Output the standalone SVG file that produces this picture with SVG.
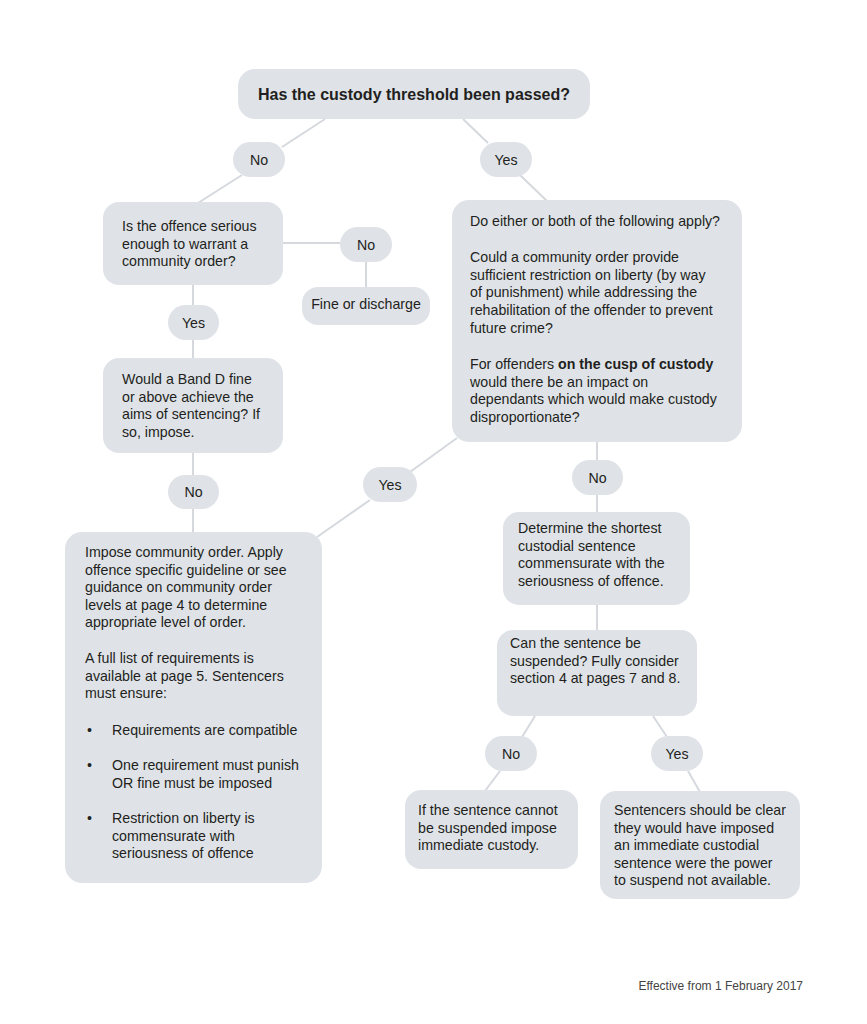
<svg xmlns="http://www.w3.org/2000/svg" width="867" height="1024" viewBox="0 0 867 1024">
<style>
.box{fill:#dfe3e8}
.t{font-family:"Liberation Sans",Arial,sans-serif;font-size:14.2px;fill:#231f20}
.c{text-anchor:middle}
.conn line{stroke:#d5d9de;stroke-width:2}
</style>
<rect width="867" height="1024" fill="#ffffff"/>
<g class="conn">
<line x1="325" y1="119" x2="282" y2="147"/>
<line x1="242" y1="175" x2="198" y2="203"/>
<line x1="463" y1="119" x2="488" y2="143"/>
<line x1="520" y1="175" x2="548" y2="202"/>
<line x1="283" y1="243" x2="340" y2="243"/>
<line x1="366" y1="262" x2="366" y2="287"/>
<line x1="193" y1="285" x2="193" y2="305"/>
<line x1="193" y1="340" x2="193" y2="358"/>
<line x1="193" y1="453" x2="193" y2="475"/>
<line x1="193" y1="509" x2="193" y2="532"/>
<line x1="457" y1="438" x2="410" y2="472"/>
<line x1="370" y1="500" x2="317" y2="537"/>
<line x1="597" y1="442" x2="597" y2="460"/>
<line x1="597" y1="495" x2="597" y2="512"/>
<line x1="597" y1="605" x2="597" y2="630"/>
<line x1="535" y1="716" x2="522" y2="737"/>
<line x1="500" y1="771" x2="485" y2="791"/>
<line x1="653" y1="716" x2="667" y2="737"/>
<line x1="688" y1="771" x2="700" y2="792"/>
</g>
<g id="n-threshold">
<rect class="box" x="238" y="69" width="352" height="50" rx="17"/>
<text class="t c" x="414" y="100" style="font-size:16px;font-weight:bold">Has the custody threshold been passed?</text>
</g>
<g id="n-no1">
<rect class="box" x="233" y="142" width="52" height="35" rx="17.5"/>
<text class="t c" x="259" y="165">No</text>
</g>
<g id="n-yes1">
<rect class="box" x="480" y="142" width="52" height="35" rx="17.5"/>
<text class="t c" x="506" y="165">Yes</text>
</g>
<g id="n-serious">
<rect class="box" x="103" y="202" width="180" height="83" rx="16"/>
<text class="t" x="122" y="231">Is the offence serious</text>
<text class="t" x="122" y="248.5">enough to warrant a</text>
<text class="t" x="122" y="266">community order?</text>
</g>
<g id="n-no2">
<rect class="box" x="340" y="227" width="52" height="35" rx="17.5"/>
<text class="t c" x="366" y="249.5">No</text>
</g>
<g id="n-fine">
<rect class="box" x="302" y="287" width="128" height="38" rx="16"/>
<text class="t c" x="366" y="309">Fine or discharge</text>
</g>
<g id="n-yes2">
<rect class="box" x="168" y="305" width="51" height="35" rx="17.5"/>
<text class="t c" x="193.5" y="327.5">Yes</text>
</g>
<g id="n-bandd">
<rect class="box" x="103" y="358" width="180" height="95" rx="16"/>
<text class="t" x="122" y="384">Would a Band D fine</text>
<text class="t" x="122" y="401.5">or above achieve the</text>
<text class="t" x="122" y="419">aims of sentencing? If</text>
<text class="t" x="122" y="436.5">so, impose.</text>
</g>
<g id="n-no3">
<rect class="box" x="168" y="475" width="51" height="34" rx="17"/>
<text class="t c" x="193.5" y="497">No</text>
</g>
<g id="n-apply">
<rect class="box" x="452" y="200" width="290" height="242" rx="17"/>
<text class="t" x="470" y="226">Do either or both of the following apply?</text>
<text class="t" x="470" y="262">Could a community order provide</text>
<text class="t" x="470" y="279.7">sufficient restriction on liberty (by way</text>
<text class="t" x="470" y="297.4">of punishment) while addressing the</text>
<text class="t" x="470" y="315.1">rehabilitation of the offender to prevent</text>
<text class="t" x="470" y="332.8">future crime?</text>
<text class="t" x="470" y="369">For offenders <tspan font-weight="bold">on the cusp of custody</tspan></text>
<text class="t" x="470" y="386.7">would there be an impact on</text>
<text class="t" x="470" y="404.4">dependants which would make custody</text>
<text class="t" x="470" y="422.1">disproportionate?</text>
</g>
<g id="n-yes3">
<rect class="box" x="363" y="467" width="54" height="35" rx="17.5"/>
<text class="t c" x="390" y="489.5">Yes</text>
</g>
<g id="n-no4">
<rect class="box" x="572" y="460" width="51" height="35" rx="17.5"/>
<text class="t c" x="597.5" y="483">No</text>
</g>
<g id="n-community">
<rect class="box" x="65" y="532" width="257" height="351" rx="17"/>
<text class="t" x="85" y="557">Impose community order. Apply</text>
<text class="t" x="85" y="574.5">offence specific guideline or see</text>
<text class="t" x="85" y="592">guidance on community order</text>
<text class="t" x="85" y="609.5">levels at page 4 to determine</text>
<text class="t" x="85" y="627">appropriate level of order.</text>
<text class="t" x="85" y="663">A full list of requirements is</text>
<text class="t" x="85" y="680.5">available at page 5. Sentencers</text>
<text class="t" x="85" y="698">must ensure:</text>
<text class="t" x="87" y="735">•</text>
<text class="t" x="112" y="735">Requirements are compatible</text>
<text class="t" x="87" y="770">•</text>
<text class="t" x="112" y="770">One requirement must punish</text>
<text class="t" x="112" y="787.5">OR fine must be imposed</text>
<text class="t" x="87" y="823">•</text>
<text class="t" x="112" y="823">Restriction on liberty is</text>
<text class="t" x="112" y="840.5">commensurate with</text>
<text class="t" x="112" y="858">seriousness of offence</text>
</g>
<g id="n-shortest">
<rect class="box" x="503" y="512" width="187" height="93" rx="16"/>
<text class="t" x="518" y="533">Determine the shortest</text>
<text class="t" x="518" y="550.5">custodial sentence</text>
<text class="t" x="518" y="568">commensurate with the</text>
<text class="t" x="518" y="585.5">seriousness of offence.</text>
</g>
<g id="n-suspend">
<rect class="box" x="497" y="630" width="200" height="86" rx="16"/>
<text class="t" x="510" y="648">Can the sentence be</text>
<text class="t" x="510" y="665.5">suspended? Fully consider</text>
<text class="t" x="510" y="683">section 4 at pages 7 and 8.</text>
</g>
<g id="n-no5">
<rect class="box" x="485" y="736" width="52" height="35" rx="17.5"/>
<text class="t c" x="511" y="758.5">No</text>
</g>
<g id="n-yes5">
<rect class="box" x="651" y="736" width="52" height="35" rx="17.5"/>
<text class="t c" x="677" y="758.5">Yes</text>
</g>
<g id="n-immediate">
<rect class="box" x="405" y="790" width="173" height="79" rx="16"/>
<text class="t" x="418" y="815">If the sentence cannot</text>
<text class="t" x="418" y="832.5">be suspended impose</text>
<text class="t" x="418" y="850">immediate custody.</text>
</g>
<g id="n-clear">
<rect class="box" x="600" y="791" width="200" height="108" rx="16"/>
<text class="t" x="614" y="815">Sentencers should be clear</text>
<text class="t" x="614" y="832.5">they would have imposed</text>
<text class="t" x="614" y="850">an immediate custodial</text>
<text class="t" x="614" y="867.5">sentence were the power</text>
<text class="t" x="614" y="885">to suspend not available.</text>
</g>
<text class="t" x="803" y="990" style="font-size:12px;fill:#444;text-anchor:end">Effective from 1 February 2017</text>
</svg>
